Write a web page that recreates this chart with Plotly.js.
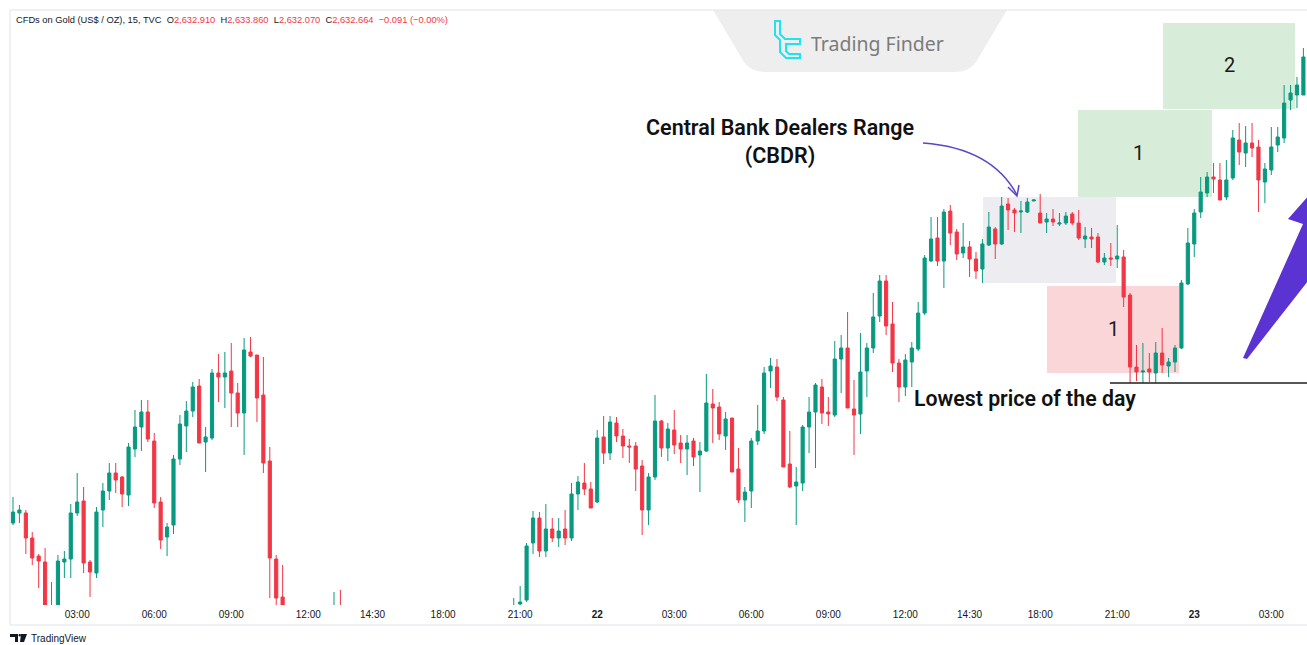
<!DOCTYPE html>
<html>
<head>
<meta charset="utf-8">
<script src="https://cdn.plot.ly/plotly-3.0.1.min.js"></script>
<style>
  html, body { margin: 0; padding: 0; background: #ffffff; }
  #chart { width: 1307px; height: 645px; }
</style>
</head>
<body>
<div id="chart"></div>
<script>
// ---- Data (15-minute candles, bar index on the time axis) ----
const barIndex = [
  0,1,2,3,4,5,6,7,8,9,10,11,12,13,14,15,16,17,18,19,20,21,22,23,24,25,26,27,28,29,30,31,32,33,34,35,36,37,38,39,40,41,42,
  50,51,
  78,79,80,81,82,83,84,85,86,87,88,89,90,91,92,93,94,95,96,97,98,99,
  100,101,102,103,104,105,106,107,108,109,110,111,112,113,114,115,116,117,118,119,
  120,121,122,123,124,125,126,127,128,129,130,131,132,133,134,135,136,137,138,139,
  140,141,142,143,144,145,146,147,148,149,150,151,152,153,154,155,156,157,158,159,
  160,161,162,163,164,165,166,167,168,169,170,171,172,173,174,175,176,177,178,179,
  180,181,182,183,184,185,186,187,188,189,190,191,192,193,194,195,196,197,198,199,
  200,201
];
const openP = [
  2647.7,2648.7,2648.7,2646.2,2644.4,2643.8,2639.1,2638.5,2643.8,2644.1,2648.7,2649.9,2643.8,2642.7,2649.0,2650.9,2652.7,2652.3,2650.5,2655.1,2657.3,2658.8,2655.9,2649.8,2646.3,2647.5,2654.1,2657.4,2658.9,2661.4,2655.8,2656.2,2662.7,2662.3,2662.9,2660.7,2658.7,2664.8,2664.5,2660.5,2653.9,2644.1,2640.3,
  2638.0,2639.0,
  2639.2,2639.6,2640.0,2645.7,2648.2,2644.9,2647.1,2646.2,2647.1,2646.2,2650.6,2651.7,2651.1,2649.8,2656.3,2654.7,2657.7,2656.4,2655.4,2655.4,2653.4,2649.0,
  2652.3,2657.9,2655.2,2657.0,2655.7,2655.1,2655.9,2654.5,2654.9,2659.6,2659.3,2656.4,2658.2,2653.1,2650.0,2650.9,2655.9,2656.9,2662.9,2663.3,
  2660.0,2653.6,2651.4,2651.7,2657.3,2658.8,2661.3,2658.8,2658.5,2664.1,2665.2,2659.1,2658.6,2662.9,2665.2,2668.4,2671.9,2667.6,2663.7,2661.3,
  2663.8,2665.1,2668.7,2673.9,2676.2,2673.9,2678.9,2676.8,2674.7,2675.3,2674.1,2673.1,2675.5,2677.1,2675.6,2679.6,2679.0,2678.8,2678.8,2679.9,
  2678.7,2677.8,2678.1,2677.6,2677.7,2678.6,2677.7,2676.1,2676.3,2676.3,2673.8,2674.2,2674.1,2674.3,2670.5,2663.3,2662.8,2663.1,2662.7,2664.7,
  2663.4,2663.8,2665.2,2671.6,2675.6,2678.8,2680.7,2682.3,2682.0,2680.3,2682.2,2686.0,2684.7,2685.7,2685.3,2681.8,2683.0,2685.5,2686.2,2690.0,
  2690.5,2690.5
];
const highP = [
  2650.3,2649.5,2649.0,2646.8,2644.6,2645.2,2641.8,2644.5,2644.9,2649.6,2652.7,2651.3,2644.0,2649.3,2651.7,2653.7,2653.7,2652.4,2655.7,2659.0,2660.0,2660.0,2656.7,2650.3,2647.7,2654.5,2658.5,2659.9,2661.8,2662.1,2657.3,2663.1,2664.6,2664.8,2665.7,2661.7,2666.2,2666.3,2664.5,2664.3,2655.3,2644.5,2643.5,
  2640.8,2641.0,
  2640.2,2641.4,2645.7,2648.9,2648.8,2649.6,2648.2,2648.2,2649.0,2651.7,2652.4,2653.7,2651.8,2657.0,2658.4,2658.4,2658.3,2657.1,2656.1,2655.8,2654.0,2652.7,
  2660.5,2658.0,2657.7,2659.0,2656.5,2656.5,2656.2,2655.8,2662.6,2661.1,2659.8,2658.8,2658.2,2655.2,2651.3,2656.2,2659.5,2663.3,2664.2,2664.1,
  2660.3,2656.9,2653.3,2657.5,2660.3,2661.7,2662.1,2660.3,2665.9,2666.5,2668.8,2662.0,2666.7,2665.7,2670.7,2672.5,2672.5,2669.8,2664.1,2664.6,
  2665.8,2669.8,2674.5,2678.3,2678.3,2679.1,2679.5,2677.1,2677.7,2675.9,2674.8,2676.1,2678.8,2677.3,2680.3,2680.2,2679.2,2679.9,2680.2,2680.1,
  2680.6,2678.7,2679.1,2678.7,2678.8,2678.8,2679.0,2677.3,2677.2,2676.7,2674.7,2675.7,2677.5,2675.0,2670.7,2665.5,2665.7,2664.7,2665.8,2667.2,
  2664.2,2665.5,2672.0,2677.2,2679.1,2682.3,2682.8,2683.7,2683.7,2684.0,2687.0,2687.7,2687.4,2687.7,2686.0,2683.7,2687.3,2687.3,2691.5,2691.5,
  2692.3,2695.2
];
const lowP = [
  2647.5,2647.7,2644.6,2643.5,2641.2,2638.6,2638.0,2638.2,2642.2,2642.2,2648.4,2642.7,2640.3,2642.2,2647.3,2650.0,2650.7,2649.3,2649.4,2654.3,2654.9,2655.8,2649.2,2645.1,2644.4,2646.6,2653.5,2654.8,2658.3,2655.7,2652.8,2656.0,2659.8,2659.2,2657.3,2657.3,2654.5,2664.3,2657.8,2652.7,2640.2,2639.3,2638.5,
  2637.5,2637.8,
  2638.8,2639.4,2639.8,2644.6,2644.3,2644.3,2645.8,2645.3,2645.5,2645.9,2649.0,2650.5,2649.2,2649.7,2653.6,2654.0,2655.8,2654.2,2653.7,2650.9,2646.5,2647.5,
  2652.0,2654.3,2653.9,2654.6,2653.7,2652.5,2653.4,2650.8,2654.8,2655.7,2656.0,2655.0,2652.8,2649.7,2647.8,2649.2,2655.5,2656.6,2661.2,2659.9,
  2653.3,2651.2,2647.5,2650.9,2654.7,2653.2,2657.6,2657.4,2658.3,2660.7,2659.2,2654.5,2656.6,2660.3,2664.7,2667.8,2666.5,2662.8,2659.8,2660.4,
  2661.3,2664.9,2668.5,2673.8,2673.4,2671.2,2675.5,2674.0,2674.2,2672.3,2672.1,2671.7,2675.4,2674.1,2675.5,2677.0,2676.8,2676.7,2678.7,2679.9,
  2677.7,2676.7,2677.4,2677.4,2677.5,2677.5,2676.0,2675.2,2675.2,2673.7,2673.5,2673.4,2673.2,2669.3,2661.7,2661.9,2661.7,2661.8,2661.7,2662.7,
  2662.3,2662.8,2665.1,2671.5,2674.3,2678.2,2680.3,2680.7,2680.0,2680.0,2682.0,2683.5,2683.3,2684.3,2678.8,2679.7,2682.5,2684.8,2685.7,2689.0,
  2689.2,2690.5
];
const closeP = [
  2648.8,2649.0,2646.2,2644.2,2643.9,2639.0,2638.3,2643.9,2644.1,2648.7,2649.8,2643.7,2642.8,2648.8,2650.9,2652.7,2652.0,2650.6,2655.3,2657.3,2658.8,2656.1,2649.7,2646.0,2647.3,2654.1,2657.6,2658.9,2661.3,2655.7,2656.3,2662.7,2662.3,2662.7,2660.7,2658.7,2665.0,2664.4,2660.2,2653.7,2644.2,2640.2,2639.0,
  2638.9,2638.2,
  2639.4,2639.8,2645.4,2648.2,2644.9,2647.1,2646.2,2646.9,2646.2,2650.6,2651.8,2651.1,2649.2,2656.2,2654.7,2657.8,2656.4,2655.4,2655.3,2653.1,2649.0,2652.3,
  2657.9,2655.2,2657.1,2655.5,2655.1,2655.7,2654.3,2654.9,2659.7,2659.2,2656.6,2658.1,2652.8,2650.0,2650.8,2655.9,2656.9,2662.7,2663.4,2660.3,
  2653.3,2651.3,2651.8,2657.3,2658.8,2661.5,2658.7,2658.6,2664.1,2665.2,2659.2,2658.5,2662.8,2665.2,2668.3,2671.9,2667.4,2663.7,2661.3,2664.0,
  2665.2,2668.7,2674.2,2676.1,2673.9,2678.8,2676.7,2674.6,2675.3,2674.1,2672.9,2675.6,2677.3,2675.6,2679.4,2679.0,2678.7,2678.9,2679.8,2680.0,
  2677.7,2678.1,2677.8,2677.7,2678.4,2677.7,2676.2,2676.4,2676.1,2673.8,2674.2,2674.1,2674.4,2670.3,2663.3,2662.8,2662.9,2662.8,2664.7,2663.5,
  2663.8,2665.2,2671.7,2675.7,2678.7,2680.8,2682.3,2682.1,2680.0,2682.0,2686.2,2684.8,2685.7,2685.2,2682.0,2683.1,2685.3,2686.3,2689.7,2690.7,
  2691.5,2694.3
];
const tickIndex = [10,22,34,46,56,67,79,91,103,115,127,139,149,160,172,184,196];
const tickLabels = ['03:00','06:00','09:00','12:00','14:30','18:00','21:00','<b>22</b>','03:00','06:00','09:00','12:00','14:30','18:00','21:00','<b>23</b>','03:00'];

// ---- Helpers for decoration placement (pixel -> paper) ----
const L = 10, T = 10, W = 1297, H = 595;
const PX = x => (x - L) / W;
const PY = y => (T + H - y) / H;
const path = pts => pts.map((p, i) => (i ? 'L' : 'M') + PX(p[0]).toFixed(5) + ',' + PY(p[1]).toFixed(5)).join(' ');
const rect = (x0, y0, x1, y1, color) => ({type: 'rect', xref: 'paper', yref: 'paper', x0: PX(x0), x1: PX(x1), y0: PY(y1), y1: PY(y0), fillcolor: color, line: {width: 0}, layer: 'below'});

const GREEN = '#089981', RED = '#f23645';

const trace = {
  type: 'candlestick',
  x: barIndex, open: openP, high: highP, low: lowP, close: closeP,
  increasing: {line: {color: GREEN, width: 1}, fillcolor: GREEN},
  decreasing: {line: {color: RED, width: 1}, fillcolor: RED},
  whiskerwidth: 0,
  hoverinfo: 'skip',
  showlegend: false
};

const shapes = [
  // logo tab
  {type: 'path', xref: 'paper', yref: 'paper', layer: 'below',
   path: 'M' + PX(713) + ',' + PY(10) + ' L' + PX(1007) + ',' + PY(10) + ' L' + PX(976) + ',' + PY(62) +
         ' Q' + PX(969) + ',' + PY(72) + ' ' + PX(955) + ',' + PY(72) + ' L' + PX(765) + ',' + PY(72) +
         ' Q' + PX(751) + ',' + PY(72) + ' ' + PX(744) + ',' + PY(62) + ' Z',
   fillcolor: '#eeeeee', line: {width: 0}},
  // logo icon
  {type: 'path', xref: 'paper', yref: 'paper',
   path: path([[775,21],[780,21],[780,34],[785,39],[800,39],[800,44],[786,44],[786,51],[789,54],[800,54],[800,58],[786,58],[780,52],[780,40],[775,35]]) + ' Z',
   line: {color: '#20e3ee', width: 2}},
  // frame
  {type: 'line', xref: 'paper', yref: 'paper', x0: 0, x1: 1, y0: 1, y1: 1, line: {color: '#e0e3eb', width: 1}},
  {type: 'line', xref: 'paper', yref: 'paper', x0: 0, x1: 0, y0: 1, y1: PY(625), line: {color: '#e0e3eb', width: 1}},
  {type: 'line', xref: 'paper', yref: 'paper', x0: 0, x1: 1, y0: PY(625), y1: PY(625), line: {color: '#e0e3eb', width: 1}},
  // zones
  rect(983, 197, 1116, 283, '#ececf1'),
  rect(1047, 286, 1179, 373, '#fbd6d9'),
  rect(1078, 110, 1212, 197, '#d7edd9'),
  rect(1163, 23, 1295, 109, '#d7edd9'),
  // lowest price line
  {type: 'line', xref: 'paper', yref: 'paper', x0: PX(1110), x1: 1, y0: PY(383), y1: PY(383), line: {color: '#1e1e1e', width: 1.5}},
  // CBDR pointer arrow
  {type: 'path', xref: 'paper', yref: 'paper',
   path: 'M' + PX(923) + ',' + PY(143) + ' Q' + PX(992) + ',' + PY(148) + ' ' + PX(1017) + ',' + PY(195),
   line: {color: '#5b45c8', width: 1.5}},
  {type: 'path', xref: 'paper', yref: 'paper',
   path: path([[1008,187],[1017,196],[1019,185]]),
   line: {color: '#5b45c8', width: 1.5}},
  // big purple arrow
  {type: 'path', xref: 'paper', yref: 'paper',
   path: path([[1243,358],[1303,224],[1288,219],[1340,160],[1340,240],[1247,359]]) + ' Z',
   fillcolor: '#5a33d2', line: {width: 0}},
  // TradingView mark
  {type: 'path', xref: 'paper', yref: 'paper',
   path: path([[10,634],[18,634],[18,642],[15,642],[15,637],[10,637]]) + ' Z',
   fillcolor: '#131722', line: {width: 0}},
  {type: 'path', xref: 'paper', yref: 'paper',
   path: path([[21,634],[27,634],[24,642],[20,642]]) + ' Z',
   fillcolor: '#131722', line: {width: 0}},
  {type: 'circle', xref: 'paper', yref: 'paper', x0: PX(18.5), x1: PX(21), y0: PY(636.5), y1: PY(634), fillcolor: '#131722', line: {width: 0}}
];

const ann = (x, y, text, font, opts) => Object.assign({xref: 'paper', yref: 'paper', x: PX(x), y: PY(y), text: text, showarrow: false, font: font, xanchor: 'center', yanchor: 'middle'}, opts || {});
const red = s => '<span style="color:' + RED + '">' + s + '</span>';
const headerText = 'CFDs on Gold (US$ / OZ), 15, TVC  O' + red('2,632.910') + '  H' + red('2,633.860') + '  L' + red('2,632.070') + '  C' + red('2,632.664') + '  ' + red('\u22120.091 (\u22120.00%)');

const annotations = [
  ann(14, 20, headerText, {family: 'Liberation Sans, Arial, sans-serif', size: 9.3, color: '#131722'}, {xanchor: 'left'}),
  ann(809, 43, 'Trading Finder', {family: 'Noto Sans, sans-serif', size: 19.5, color: '#7b7b7b'}, {xanchor: 'left'}),
  ann(780, 142, 'Central Bank Dealers Range<br>(CBDR)', {family: 'Roboto, sans-serif', size: 21.5, color: '#111111', weight: 600}),
  ann(1025, 398, 'Lowest price of the day', {family: 'Roboto, sans-serif', size: 21.3, color: '#111111', weight: 600}),
  ann(1113, 329, '1', {family: 'Roboto, sans-serif', size: 20, color: '#1a1a1a'}),
  ann(1138, 153, '1', {family: 'Roboto, sans-serif', size: 20, color: '#1a1a1a'}),
  ann(1229, 65, '2', {family: 'Roboto, sans-serif', size: 20, color: '#1a1a1a'}),
  ann(29, 638, 'TradingView', {family: 'Liberation Sans, Arial, sans-serif', size: 10, color: '#131722'}, {xanchor: 'left'})
];

const layout = {
  width: 1307, height: 645,
  margin: {l: L, r: 0, t: T, b: 645 - T - H},
  paper_bgcolor: '#ffffff', plot_bgcolor: '#ffffff',
  showlegend: false,
  xaxis: {
    type: 'linear', range: [-0.467, 201.56],
    tickmode: 'array', tickvals: tickIndex, ticktext: tickLabels,
    showgrid: false, zeroline: false, showline: false, ticks: '',
    ticklabelstandoff: 2,
    tickfont: {family: 'Liberation Sans, Arial, sans-serif', size: 10, color: '#131722'},
    rangeslider: {visible: false}, fixedrange: true
  },
  yaxis: {
    range: [2639.5, 2699.0], visible: false, showgrid: false, zeroline: false, fixedrange: true
  },
  shapes: shapes,
  annotations: annotations
};

Plotly.newPlot('chart', [trace], layout, {displayModeBar: false, staticPlot: true});
</script>
</body>
</html>
